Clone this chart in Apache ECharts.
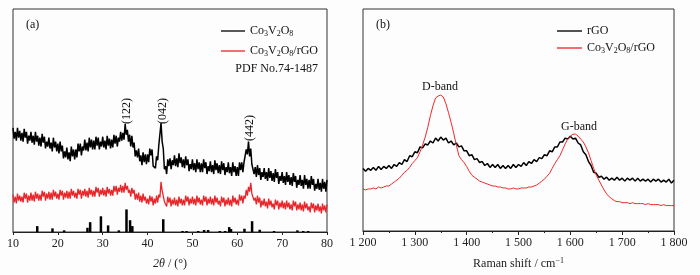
<!DOCTYPE html>
<html>
<head>
<meta charset="utf-8">
<script src="https://cdn.jsdelivr.net/npm/echarts@6/dist/echarts.min.js"></script>
<style>
  html, body { margin: 0; padding: 0; background: #fdfdfd; }
  #main { width: 700px; height: 275px; }
</style>
</head>
<body>
<div id="main"></div>
<script>
// XRD, 2theta from 10 to 80 every 0.25 deg (one row = one degree)
const xrdStart = 10, xrdStep = 0.25;
const xrdBare = [
  106, 95, 102, 93,  106, 96, 103, 93,  101, 92, 105, 96,  102, 90, 98, 93,
  102, 91, 98, 89,   102, 92, 98, 88,   96, 87, 100, 91,   97, 85, 92, 87,
  96, 85, 91, 82,    96, 86, 92, 82,    90, 80, 92, 82,    88, 75, 82, 76,
  86, 74, 81, 72,    87, 77, 84, 74,    84, 76, 90, 82,    90, 78, 87, 83,
  94, 83, 91, 82,    96, 86, 94, 84,    93, 84, 97, 88,    96, 84, 92, 87,
  97, 86, 93, 84,    98, 88, 95, 85,    94, 86, 99, 90,    98, 87, 96, 92,
  102, 93, 101, 94,  110, 99, 104, 92,  99, 87, 98, 86,    91, 77, 83, 76,
  85, 72, 78, 68,    81, 71, 79, 69,    79, 71, 85, 78,    84, 67, 69, 65,
  77, 73, 88, 89,    111, 92, 85, 64,   67, 59, 74, 67,    75, 64, 73, 68,
  78, 67, 75, 66,    80, 70, 76, 66,    74, 65, 77, 68,    74, 62, 69, 64,
  74, 63, 70, 61,    74, 64, 71, 61,    70, 61, 74, 65,    71, 59, 67, 62,
  72, 61, 68, 59,    73, 63, 70, 60,    68, 59, 72, 63,    70, 58, 66, 61,
  71, 60, 66, 57,    71, 61, 67, 57,    66, 57, 71, 63,    71, 61, 71, 70,
  84, 79, 92, 77,    85, 69, 71, 59,    66, 56, 68, 58,    65, 53, 61, 56,
  65, 54, 61, 52,    65, 55, 62, 52,    60, 51, 64, 55,    61, 49, 57, 52,
  61, 50, 57, 48,    61, 51, 58, 48,    56, 47, 60, 51,    57, 45, 53, 48,
  58, 47, 53, 44,    58, 48, 54, 44,    53, 44, 57, 48,    54, 42, 49, 44,
  54, 43, 50, 41,    54, 44, 51, 41,
  53
];
const xrdComposite = [
  38, 30, 36, 29,  39, 32, 37, 31,  36, 30, 40, 34,  39, 30, 37, 32,
  40, 32, 38, 31,  41, 34, 39, 32,  38, 32, 42, 36,  41, 32, 39, 34,
  41, 33, 40, 33,  43, 36, 41, 34,  39, 33, 43, 37,  42, 33, 40, 35,
  42, 34, 41, 34,  44, 37, 42, 35,  40, 34, 44, 38,  43, 34, 42, 37,
  44, 36, 42, 35,  45, 38, 43, 36,  42, 36, 46, 40,  45, 36, 43, 38,
  45, 37, 43, 36,  46, 39, 44, 37,  43, 37, 47, 41,  47, 38, 45, 41,
  48, 40, 47, 40,  50, 43, 47, 40,  43, 36, 45, 39,  43, 33, 39, 33,
  40, 31, 37, 30,  39, 32, 36, 29,  34, 28, 37, 31,  36, 27, 34, 29,
  37, 30, 38, 35,  51, 42, 43, 31,  32, 26, 36, 30,  35, 26, 33, 28,
  35, 27, 33, 26,  36, 29, 34, 27,  33, 27, 37, 31,  36, 27, 34, 29,
  36, 28, 34, 27,  37, 30, 35, 28,  33, 27, 37, 31,  36, 27, 34, 29,
  36, 28, 34, 27,  37, 30, 35, 28,  32, 26, 36, 30,  35, 26, 33, 28,
  35, 27, 33, 26,  37, 30, 35, 28,  33, 27, 38, 32,  37, 29, 37, 34,
  43, 37, 46, 41,  50, 39, 41, 32,  35, 28, 37, 30,  35, 25, 32, 27,
  34, 26, 31, 24,  34, 27, 32, 25,  29, 23, 33, 27,  32, 23, 30, 25,
  32, 24, 30, 23,  32, 25, 30, 23,  28, 22, 32, 26,  31, 22, 28, 23,
  30, 22, 28, 21,  31, 24, 29, 22,  26, 20, 30, 24,  29, 20, 27, 22,
  29, 21, 26, 19,  29, 22, 27, 20,
  28
];
// PDF No.74-1487 reference lines: [2theta, relative height]
const pdfLines = [
  [15.4, 6], [18.8, 3.7], [21.4, 1.7], [26.6, 4.3], [27.2, 10], [29.6, 16], [31.2, 6.7],
  [33.6, 1.7], [35.3, 23], [36.1, 12], [36.6, 6], [43.5, 13], [47.8, 1], [48.7, 1],
  [51.3, 1], [52.6, 2], [53.5, 2], [56.1, 1], [57.3, 1], [58.2, 5], [58.6, 3],
  [61.6, 3.3], [63.3, 11], [65.0, 2.3], [68.2, 1], [73.4, 1.7], [74.7, 1], [75.8, 1]
];
const xrdTicks = [10, 20, 30, 40, 50, 60, 70, 80];

// Raman, 1200 to 1800 cm-1 every 5
const ramanStart = 1200, ramanStep = 5;
const ramanRGO = [
  64, 61, 64, 62, 65, 62, 66, 63, 66, 64, 67, 64, 68, 66, 70, 68, 73, 71, 77, 76,
  81, 80, 86, 85, 89, 88, 92, 90, 95, 92, 96, 93, 95, 90, 92, 88, 90, 86, 87, 82,
  82, 77, 78, 73, 74, 70, 71, 67, 69, 65, 68, 65, 68, 64, 67, 64, 67, 64, 68, 65,
  68, 66, 70, 67, 71, 69, 73, 71, 75, 74, 78, 77, 82, 81, 86, 86, 91, 91, 95, 94,
  97, 94, 95, 90, 88, 81, 78, 71, 67, 60, 59, 55, 56, 53, 55, 52, 54, 52, 55, 52,
  54, 51, 54, 52, 54, 51, 54, 51, 53, 51, 53, 50, 53, 51, 53, 50, 52, 50, 53, 49, 52
];
const ramanComposite = [
  43, 42, 43, 43, 44, 43, 45, 44, 45, 46, 46, 48, 50, 52, 54, 57, 60, 62, 65, 69,
  72, 75, 81, 88, 96, 106, 118, 128, 136, 138, 139, 137, 130, 121, 111, 100, 88, 77, 73, 70,
  66, 61, 57, 55, 53, 51, 50, 49, 48, 47, 46, 46, 45, 45, 44, 44, 43, 43, 44, 43,
  43, 44, 44, 44, 45, 45, 46, 47, 49, 51, 53, 56, 59, 64, 69, 73, 77, 83, 89, 94,
  97, 99, 99, 97, 94, 91, 86, 80, 72, 64, 57, 52, 47, 42, 38, 35, 33, 31, 30, 30,
  29, 29, 29, 28, 29, 28, 28, 28, 28, 27, 28, 27, 27, 27, 27, 26, 27, 26, 26, 26, 26
];

function pairs(start, step, vals) {
  return vals.map((v, i) => [start + i * step, v]);
}

const serif = '"Liberation Serif", "DejaVu Serif", serif';
const subRich = {
  n: {fontFamily: serif, fontSize: 12, color: '#111'},
  s: {fontFamily: serif, fontSize: 8, color: '#111', verticalAlign: 'bottom', padding: [6, 0, 0, 0]}
};
const cvo = '{n|Co}{s|3}{n|V}{s|2}{n|O}{s|8}';
const txt = (text) => ({text: text, font: '12px ' + serif, fill: '#111'});

var chart = echarts.init(document.getElementById('main'));
var option = {
  backgroundColor: '#fdfdfd',
  animation: false,
  grid: [
    {left: 13, right: 373, top: 9, bottom: 39, show: true, borderColor: '#333', borderWidth: 1},
    {left: 363, right: 26, top: 9, bottom: 39, show: true, borderColor: '#333', borderWidth: 1}
  ],
  xAxis: [
    {
      type: 'value', gridIndex: 0, min: 10, max: 80, interval: 10,
      axisLine: {show: true, lineStyle: {color: '#222'}},
      axisTick: {show: true, length: 3, lineStyle: {color: '#222'}},
      splitLine: {show: false},
      axisLabel: {fontFamily: serif, fontSize: 12, color: '#222', margin: 6,
        formatter: v => xrdTicks.includes(v) ? String(v) : ''},
      name: '{i|2θ}{n| / (°)}', nameLocation: 'middle', nameGap: 26,
      nameTextStyle: {rich: {
        i: {fontFamily: serif, fontSize: 12, fontStyle: 'italic', color: '#222'},
        n: {fontFamily: serif, fontSize: 12, color: '#222'}
      }}
    },
    {
      type: 'value', gridIndex: 1, min: 1200, max: 1800, interval: 100,
      axisLine: {show: true, lineStyle: {color: '#222'}},
      axisTick: {show: true, length: 4, lineStyle: {color: '#222'}},
      minorTick: {show: true, splitNumber: 2, length: 2, lineStyle: {color: '#222'}},
      splitLine: {show: false},
      axisLabel: {fontFamily: serif, fontSize: 12, color: '#222', margin: 6,
        formatter: v => String(v).replace(/^(\d)(\d{3})$/, '$1 $2')},
      name: '{n|Raman shift / cm}{p|−1}', nameLocation: 'middle', nameGap: 26,
      nameTextStyle: {rich: {
        n: {fontFamily: serif, fontSize: 12, color: '#222'},
        p: {fontFamily: serif, fontSize: 8, color: '#222', verticalAlign: 'top', padding: [0, 0, 6, 0]}
      }}
    }
  ],
  yAxis: [
    {type: 'value', gridIndex: 0, min: 0, max: 227, show: false},
    {type: 'value', gridIndex: 1, min: 0, max: 227, show: false}
  ],
  legend: [
    {
      left: 221, top: 25, padding: 0, orient: 'vertical', itemWidth: 24, itemHeight: 12, itemGap: 7,
      icon: 'path://M0,5 L24,5 L24,6.3 L0,6.3 Z',
      data: ['xrd-bare', 'xrd-comp'],
      formatter: name => name === 'xrd-bare' ? cvo : cvo + '{n|/rGO}',
      textStyle: {rich: subRich}
    },
    {
      left: 557, top: 25, padding: 0, orient: 'vertical', itemWidth: 25, itemHeight: 12, itemGap: 5,
      icon: 'path://M0,5 L24,5 L24,6.3 L0,6.3 Z',
      data: ['raman-rgo', 'raman-comp'],
      formatter: name => name === 'raman-rgo' ? '{n|rGO}' : cvo + '{n|/rGO}',
      textStyle: {rich: subRich}
    }
  ],
  graphic: [
    {type: 'text', left: 26, top: 19, style: txt('(a)')},
    {type: 'text', left: 376, top: 19, style: txt('(b)')},
    {type: 'text', right: 382, top: 63, style: txt('PDF No.74-1487')},
    {type: 'text', x: 127, y: 124, rotation: Math.PI / 2,
      style: Object.assign(txt('(122)'), {align: 'left', verticalAlign: 'middle'})},
    {type: 'text', x: 163, y: 124, rotation: Math.PI / 2,
      style: Object.assign(txt('(042)'), {align: 'left', verticalAlign: 'middle'})},
    {type: 'text', x: 250, y: 141, rotation: Math.PI / 2,
      style: Object.assign(txt('(442)'), {align: 'left', verticalAlign: 'middle'})},
    {type: 'text', x: 440, y: 87, style: Object.assign(txt('D-band'), {align: 'center', verticalAlign: 'middle'})},
    {type: 'text', x: 579, y: 127, style: Object.assign(txt('G-band'), {align: 'center', verticalAlign: 'middle'})}
  ],
  series: [
    {name: 'xrd-bare', type: 'line', xAxisIndex: 0, yAxisIndex: 0, showSymbol: false,
      data: pairs(xrdStart, xrdStep, xrdBare), lineStyle: {color: '#000', width: 1.5}, itemStyle: {color: '#000'}},
    {name: 'xrd-comp', type: 'line', xAxisIndex: 0, yAxisIndex: 0, showSymbol: false,
      data: pairs(xrdStart, xrdStep, xrdComposite), lineStyle: {color: '#e8262a', width: 1.3}, itemStyle: {color: '#e8262a'}},
    {name: 'pdf', type: 'bar', xAxisIndex: 0, yAxisIndex: 0, barWidth: 2.5,
      data: pdfLines, itemStyle: {color: '#000'}},
    {name: 'raman-rgo', type: 'line', xAxisIndex: 1, yAxisIndex: 1, showSymbol: false,
      data: pairs(ramanStart, ramanStep, ramanRGO), lineStyle: {color: '#000', width: 1.5}, itemStyle: {color: '#000'}},
    {name: 'raman-comp', type: 'line', xAxisIndex: 1, yAxisIndex: 1, showSymbol: false,
      data: pairs(ramanStart, ramanStep, ramanComposite), lineStyle: {color: '#f0282a', width: 1}, itemStyle: {color: '#f0282a'}}
  ]
};
chart.setOption(option);
</script>
</body>
</html>
